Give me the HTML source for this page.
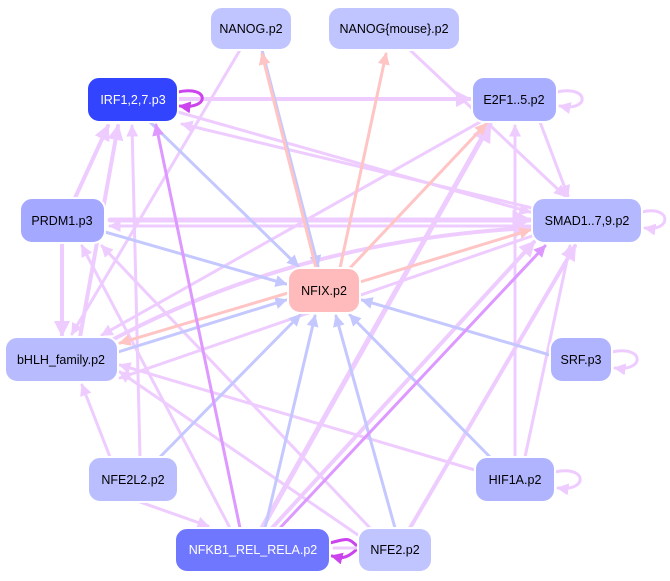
<!DOCTYPE html>
<html><head><meta charset="utf-8"><style>
html,body{margin:0;padding:0;background:#fff;}
svg{display:block;font-family:"Liberation Sans",sans-serif;}
</style></head><body>
<svg width="670" height="581" viewBox="0 0 670 581" xmlns="http://www.w3.org/2000/svg">
<defs>
<marker id="mP" markerWidth="4" markerHeight="4" refX="3.5" refY="2" orient="auto" markerUnits="strokeWidth"><path d="M0,0L4,2L0,4z" fill="#eeccff"/></marker>
<marker id="mB" markerWidth="4" markerHeight="4" refX="3.5" refY="2" orient="auto" markerUnits="strokeWidth"><path d="M0,0L4,2L0,4z" fill="#c4c8ff"/></marker>
<marker id="mR" markerWidth="4" markerHeight="4" refX="3.5" refY="2" orient="auto" markerUnits="strokeWidth"><path d="M0,0L4,2L0,4z" fill="#ffc4c4"/></marker>
<marker id="mS" markerWidth="4" markerHeight="4" refX="3.5" refY="2" orient="auto" markerUnits="strokeWidth"><path d="M0,0L4,2L0,4z" fill="#dd99ff"/></marker>
<marker id="mD" markerWidth="4" markerHeight="4" refX="3.5" refY="2" orient="auto" markerUnits="strokeWidth"><path d="M0,0L4,2L0,4z" fill="#cc44ee"/></marker>
</defs>
<g fill="none" stroke-linecap="round">
<!-- light purple edges -->
<g stroke="#eeccff" stroke-width="3" marker-end="url(#mP)">
<line x1="178" y1="99" x2="470" y2="99" stroke-width="4"/>
<line x1="178" y1="112" x2="530" y2="212"/>
<line x1="532" y1="208" x2="182" y2="124"/>
<line x1="240" y1="50" x2="72" y2="334"/>
<line x1="410" y1="50" x2="565" y2="196"/>
<line x1="480" y1="122" x2="102" y2="335"/>
<line x1="540" y1="122" x2="568" y2="196"/>
<line x1="110" y1="220" x2="530" y2="220" stroke-width="5"/>
<line x1="530" y1="226" x2="110" y2="226" stroke-width="3"/>
<line x1="75" y1="198" x2="108" y2="126" stroke-width="4"/>
<line x1="62" y1="245" x2="62" y2="335" stroke-width="4"/>
<line x1="80" y1="337" x2="118" y2="126" stroke-width="4"/>
<path d="M112,340 Q300,240 530,228" stroke-width="4"/>
<line x1="515" y1="457" x2="515" y2="126"/>
<line x1="525" y1="457" x2="570" y2="246"/>
<line x1="475" y1="470" x2="120" y2="365"/>
<line x1="110" y1="457" x2="82" y2="385"/>
<line x1="140" y1="502" x2="208" y2="526"/>
<line x1="140" y1="457" x2="132" y2="126"/>
<line x1="262" y1="528" x2="490" y2="124" stroke-width="5"/>
<line x1="272" y1="528" x2="534" y2="242" stroke-width="4"/>
<line x1="230" y1="528" x2="82" y2="246"/>
<line x1="358" y1="535" x2="120" y2="372"/>
<line x1="410" y1="528" x2="575" y2="246" stroke-width="4"/>
<line x1="370" y1="528" x2="102" y2="246"/>
<line x1="532" y1="236" x2="120" y2="378"/>
</g>
<!-- blue edges -->
<g stroke="#c4c8ff" stroke-width="3" marker-end="url(#mB)">
<line x1="150" y1="122" x2="298" y2="266"/>
<line x1="262" y1="50" x2="318" y2="266"/>
<line x1="105" y1="232" x2="286" y2="284"/>
<line x1="118" y1="352" x2="286" y2="300"/>
<line x1="550" y1="355" x2="362" y2="300"/>
<line x1="490" y1="457" x2="350" y2="315"/>
<line x1="160" y1="457" x2="300" y2="315"/>
<line x1="265" y1="528" x2="315" y2="316"/>
<line x1="395" y1="528" x2="336" y2="316"/>
</g>
<!-- pink edges -->
<g stroke="#ffc4c4" stroke-width="3" marker-end="url(#mR)">
<line x1="316" y1="268" x2="262" y2="54"/>
<line x1="340" y1="268" x2="386" y2="54"/>
<line x1="350" y1="268" x2="486" y2="124"/>
<line x1="360" y1="282" x2="530" y2="230"/>
<line x1="288" y1="293" x2="120" y2="343"/>
</g>
<!-- strong purple -->
<g stroke="#dd99ff" stroke-width="3" marker-end="url(#mS)">
<line x1="240" y1="528" x2="156" y2="125"/>
<line x1="280" y1="528" x2="545" y2="246"/>
</g>
<!-- self loops -->
<path d="M178,92 C210,85 210,110 180,106" stroke="#cc44ee" stroke-width="3" marker-end="url(#mD)"/>
<path d="M557,92 C590,85 590,112 560,106" stroke="#eeccff" stroke-width="3" marker-end="url(#mP)"/>
<path d="M642,212 C672,205 672,232 645,228" stroke="#eeccff" stroke-width="3" marker-end="url(#mP)"/>
<path d="M612,352 C645,345 645,372 615,368" stroke="#eeccff" stroke-width="3" marker-end="url(#mP)"/>
<path d="M555,472 C588,465 588,492 558,488" stroke="#eeccff" stroke-width="3" marker-end="url(#mP)"/>
<path d="M330,543 C348,538 348,538 356,545" stroke="#cc44ee" stroke-width="3"/>
<path d="M356,550 C345,560 340,558 332,556" stroke="#cc44ee" stroke-width="3" marker-end="url(#mD)"/>
<path d="M356,548 L334,548" stroke="#eeccff" stroke-width="3"/>
</g>
<!-- nodes -->
<g stroke="#fff" stroke-width="2">
<rect x="210" y="7" width="82" height="43" rx="12" fill="#c0c4ff"/>
<rect x="328" y="7" width="132" height="43" rx="12" fill="#c0c4ff"/>
<rect x="87" y="77" width="91" height="45" rx="12" fill="#3344ff"/>
<rect x="472" y="77" width="85" height="45" rx="12" fill="#aaaeff"/>
<rect x="20" y="198" width="85" height="45" rx="12" fill="#a4a8ff"/>
<rect x="532" y="198" width="110" height="45" rx="12" fill="#b4b8ff"/>
<rect x="288" y="268" width="72" height="45" rx="12" fill="#ffbbbb"/>
<rect x="5" y="337" width="113" height="45" rx="12" fill="#b8bcff"/>
<rect x="550" y="337" width="62" height="45" rx="12" fill="#b0b4ff"/>
<rect x="88" y="457" width="90" height="45" rx="12" fill="#babeff"/>
<rect x="475" y="457" width="80" height="45" rx="12" fill="#b0b4ff"/>
<rect x="175" y="528" width="155" height="44" rx="12" fill="#7077ff"/>
<rect x="358" y="528" width="74" height="44" rx="12" fill="#c0c4ff"/>
</g>
<g font-size="12.5" text-anchor="middle" fill="#000">
<text x="251" y="33">NANOG.p2</text>
<text x="394" y="33">NANOG{mouse}.p2</text>
<text x="133" y="104" fill="#fff">IRF1,2,7.p3</text>
<text x="514" y="104">E2F1..5.p2</text>
<text x="62" y="225">PRDM1.p3</text>
<text x="587" y="225">SMAD1..7,9.p2</text>
<text x="324" y="295">NFIX.p2</text>
<text x="61" y="364">bHLH_family.p2</text>
<text x="581" y="364">SRF.p3</text>
<text x="133" y="484">NFE2L2.p2</text>
<text x="515" y="484">HIF1A.p2</text>
<text x="253" y="554" fill="#fff">NFKB1_REL_RELA.p2</text>
<text x="395" y="554">NFE2.p2</text>
</g>
</svg>
</body></html>
